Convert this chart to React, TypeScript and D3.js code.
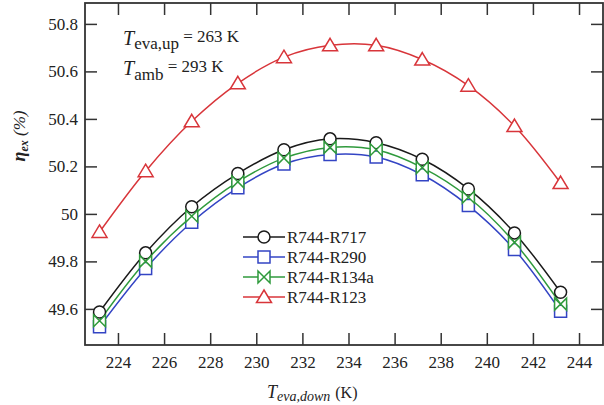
import { useEffect, useRef } from "react";
import * as d3 from "d3";

const tempDown = [223.2, 225.2, 227.2, 229.2, 231.2, 233.2, 235.2, 237.2, 239.2, 241.2, 243.2];
const r717 = [49.587, 49.836, 50.03, 50.17, 50.27, 50.316, 50.3, 50.23, 50.105, 49.92, 49.67];
const r290 = [49.525, 49.77, 49.965, 50.11, 50.21, 50.25, 50.24, 50.165, 50.035, 49.85, 49.59];
const r134a = [49.55, 49.8, 49.99, 50.135, 50.235, 50.28, 50.27, 50.195, 50.07, 49.88, 49.62];
const r123 = [49.924, 50.18, 50.39, 50.55, 50.66, 50.71, 50.71, 50.65, 50.54, 50.37, 50.13];

const xTicks = [224, 226, 228, 230, 232, 234, 236, 238, 240, 242, 244];
const yTicks = [49.6, 49.8, 50, 50.2, 50.4, 50.6, 50.8];

const seriesNames = ["R744-R717", "R744-R290", "R744-R134a", "R744-R123"];
const seriesColors = ["#1a1a1a", "#3344c4", "#2f9a3c", "#d8353a"];
const seriesMarkers = ["circle", "square", "bowtie", "triangle"];

const FONT = "Liberation Serif, DejaVu Serif, Noto Serif, serif";

function markerPath(kind: string) {
    const s = 6;
    if (kind === "square") return `M${-s},${-s}H${s}V${s}H${-s}Z`;
    if (kind === "bowtie") return `M${-s},${-s}L${s},${s}V${-s}L${-s},${s}Z`;
    if (kind === "triangle") return `M0,${-7}L${7.5},${5.5}H${-7.5}Z`;
    return d3.symbol(d3.symbolCircle, 113)()!;
}

export default function App() {
    const ref = useRef<SVGSVGElement>(null);

    useEffect(() => {
        const svg = d3.select(ref.current);
        svg.selectAll("*").remove();

        const left = 85, right = 603, top = 3, bottom = 345;

        const x = d3.scaleLinear().domain([222.57, 245.04]).range([left, right]);
        const y = d3.scaleLinear().domain([49.448, 50.888]).range([bottom, top]);

        const axisStyle = (g: any) => {
            g.attr("font-family", null).attr("font-size", null);
            g.select(".domain").remove();
            g.selectAll("line").attr("stroke", "#333").attr("stroke-width", 1.5);
            g.selectAll("text").style("font-family", FONT).style("font-size", "17px").attr("fill", "#222");
        };

        svg.append("g")
            .attr("transform", `translate(0,${bottom})`)
            .call(d3.axisBottom(x).tickValues(xTicks).tickSize(-12).tickPadding(11).tickFormat(d3.format("d")))
            .call(axisStyle);
        svg.append("g")
            .attr("transform", `translate(0,${top})`)
            .call(d3.axisTop(x).tickValues(xTicks).tickSize(-12).tickFormat(() => ""))
            .call(axisStyle);
        svg.append("g")
            .attr("transform", `translate(${left},0)`)
            .call(d3.axisLeft(y).tickValues(yTicks).tickSize(-12).tickPadding(7).tickFormat((d: any) => String(+d.toFixed(1))))
            .call(axisStyle);
        svg.append("g")
            .attr("transform", `translate(${right},0)`)
            .call(d3.axisRight(y).tickValues(yTicks).tickSize(-12).tickFormat(() => ""))
            .call(axisStyle);

        svg.append("rect")
            .attr("x", left).attr("y", top)
            .attr("width", right - left).attr("height", bottom - top)
            .attr("fill", "none").attr("stroke", "#333").attr("stroke-width", 1.8);

        const allSeries = [r717, r290, r134a, r123];
        const line = d3.line<number>()
            .x((_, i) => x(tempDown[i]))
            .y(d => y(d))
            .curve(d3.curveCatmullRom.alpha(0.5));

        allSeries.forEach((vals, k) => {
            svg.append("path")
                .datum(vals)
                .attr("d", line)
                .attr("fill", "none")
                .attr("stroke", seriesColors[k])
                .attr("stroke-width", 1.5);
        });

        allSeries.forEach((vals, k) => {
            svg.append("g").selectAll("path")
                .data(vals)
                .join("path")
                .attr("d", markerPath(seriesMarkers[k]))
                .attr("transform", (d, i) => `translate(${x(tempDown[i])},${y(d)})`)
                .attr("fill", "white")
                .attr("stroke", seriesColors[k])
                .attr("stroke-width", 1.5);
        });

        // legend
        const lg = svg.append("g").style("font-family", FONT).style("font-size", "17px");
        seriesNames.forEach((name, k) => {
            const ly = 237 + k * 20;
            lg.append("line")
                .attr("x1", 243).attr("x2", 285).attr("y1", ly).attr("y2", ly)
                .attr("stroke", seriesColors[k]).attr("stroke-width", 1.5);
            lg.append("path")
                .attr("d", markerPath(seriesMarkers[k]))
                .attr("transform", `translate(264,${ly})`)
                .attr("fill", "white")
                .attr("stroke", seriesColors[k])
                .attr("stroke-width", 1.5);
            lg.append("text")
                .attr("x", 287).attr("y", ly + 6)
                .attr("fill", "#222")
                .text(name);
        });

        // annotation
        const ann = svg.append("g").style("font-family", FONT).attr("fill", "#222");
        const t1 = ann.append("text").attr("x", 123).attr("y", 45);
        t1.append("tspan").attr("font-style", "italic").style("font-size", "20px").text("T");
        t1.append("tspan").style("font-size", "17px").attr("dy", 4).text("eva,up");
        t1.append("tspan").style("font-size", "17px").attr("dy", -7).text(" = 263 K");
        const t2 = ann.append("text").attr("x", 123).attr("y", 75);
        t2.append("tspan").attr("font-style", "italic").style("font-size", "20px").text("T");
        t2.append("tspan").style("font-size", "17px").attr("dy", 5).text("amb");
        t2.append("tspan").style("font-size", "17px").attr("dy", -8).text(" = 293 K");

        // x label
        const xl = svg.append("text")
            .attr("x", 267).attr("y", 398)
            .style("font-family", FONT).attr("fill", "#222");
        xl.append("tspan").attr("font-style", "italic").style("font-size", "18px").text("T");
        xl.append("tspan").attr("font-style", "italic").style("font-size", "14px").attr("dy", 3).text("eva,down");
        xl.append("tspan").style("font-size", "16px").attr("dy", -3).attr("dx", 5).text("(K)");

        // y label
        const yl = svg.append("text")
            .attr("transform", "translate(25,136) rotate(-90)")
            .attr("text-anchor", "middle")
            .style("font-family", FONT).style("font-size", "17px").attr("fill", "#222");
        yl.append("tspan").attr("font-style", "italic").attr("font-weight", "bold").style("font-size", "18px").text("η");
        yl.append("tspan").attr("font-style", "italic").attr("font-weight", "bold").style("font-size", "12px").attr("dy", 3).text("ex");
        yl.append("tspan").attr("font-style", "italic").attr("dy", -3).text(" (%)");
    }, []);

    return (
        <div style={{ position: "absolute", left: 0, top: 0 }}>
            <svg ref={ref} width={604} height={405} style={{ display: "block", background: "white" }} />
        </div>
    );
}
